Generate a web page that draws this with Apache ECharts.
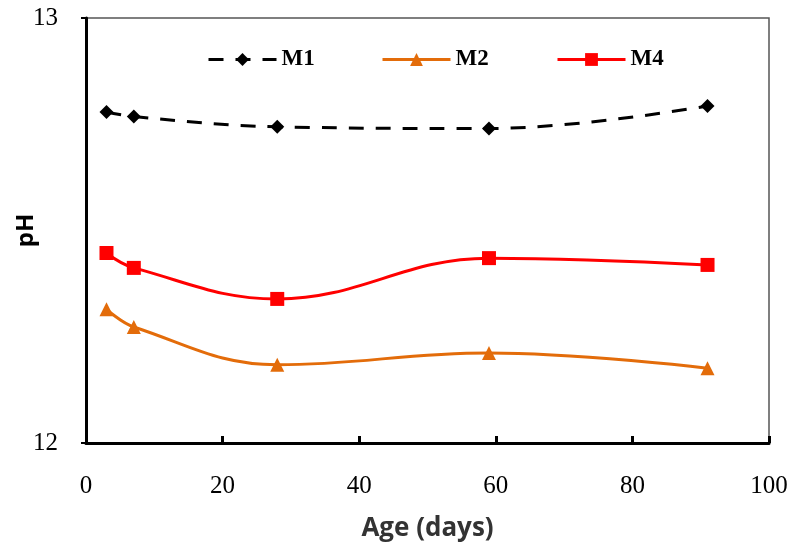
<!DOCTYPE html>
<html>
<head>
<meta charset="utf-8">
<script src="https://cdn.jsdelivr.net/npm/echarts@6/dist/echarts.min.js"></script>
<style>
  html, body { margin: 0; padding: 0; background: #fff; }
  #chart { width: 798px; height: 550px; }
</style>
</head>
<body>
<div id="chart"></div>
<script>
// age in days
const ages = [3, 7, 28, 59, 91]
const m1 = [12.779, 12.768, 12.744, 12.740, 12.793]
const m2 = [12.315, 12.273, 12.184, 12.212, 12.176]
const m4 = [12.447, 12.412, 12.339, 12.435, 12.419]
const xTicks = [0, 20, 40, 60, 80, 100]
const yTicks = [12, 13]

const serif = 'Liberation Serif'
const pairs = vals => ages.map((a, i) => [a, vals[i]])

const legendBase = {
  top: 43,
  itemWidth: 68,
  itemHeight: 16,
  itemGap: 8,
  lineStyle: { width: 3 },
  textStyle: { fontFamily: serif, fontWeight: 'bold', fontSize: 23, color: '#000' }
}

const chart = echarts.init(document.getElementById('chart'))
chart.setOption({
  animation: false,
  grid: {
    left: 86, right: 29, top: 18, bottom: 107,
    outerBoundsMode: 'none',
    containLabel: false,
    show: true, borderColor: '#555', borderWidth: 1.5
  },
  legend: [
    Object.assign({ left: 202, data: ['M1'] }, legendBase),
    Object.assign({ left: 376, data: ['M2'] }, legendBase),
    Object.assign({ left: 551, data: ['M4'] }, legendBase)
  ],
  xAxis: {
    type: 'value',
    min: 0, max: 100, interval: 20,
    name: 'Age (days)',
    nameLocation: 'middle',
    nameGap: 73,
    nameMoveOverlap: false,
    nameTextStyle: { fontFamily: 'Open Sans', fontWeight: 'bold', fontSize: 26, color: '#333' },
    axisLine: { lineStyle: { color: '#000', width: 3 } },
    axisTick: { inside: true, length: 7, lineStyle: { color: '#000', width: 3 } },
    axisLabel: {
      margin: 31, fontFamily: serif, fontSize: 25, color: '#000',
      formatter: v => xTicks.includes(v) ? String(v) : ''
    },
    splitLine: { show: false }
  },
  yAxis: {
    type: 'value',
    min: 12, max: 13, interval: 1,
    name: 'pH',
    nameLocation: 'middle',
    nameGap: 48,
    nameMoveOverlap: false,
    nameTextStyle: { fontFamily: 'Open Sans', fontWeight: 'bold', fontSize: 24, color: '#000' },
    axisLine: { show: true, lineStyle: { color: '#000', width: 3 } },
    axisTick: { show: true, length: 5, lineStyle: { color: '#000', width: 2 } },
    axisLabel: {
      margin: 28, fontFamily: serif, fontSize: 25, color: '#000',
      formatter: v => yTicks.includes(v) ? String(v) : ''
    },
    splitLine: { show: false }
  },
  series: [
    {
      name: 'M1', type: 'line', smooth: 0.4,
      data: pairs(m1),
      symbol: 'diamond', symbolSize: 14,
      itemStyle: { color: '#000' },
      lineStyle: { color: '#000', width: 3, type: [15, 12] }
    },
    {
      name: 'M2', type: 'line', smooth: 0.4,
      data: pairs(m2),
      symbol: 'triangle', symbolSize: 14,
      itemStyle: { color: '#E36C0A' },
      lineStyle: { color: '#E36C0A', width: 3 }
    },
    {
      name: 'M4', type: 'line', smooth: 0.4,
      data: pairs(m4),
      symbol: 'rect', symbolSize: 14,
      itemStyle: { color: '#FF0000' },
      lineStyle: { color: '#FF0000', width: 3 }
    }
  ]
})
</script>
</body>
</html>
